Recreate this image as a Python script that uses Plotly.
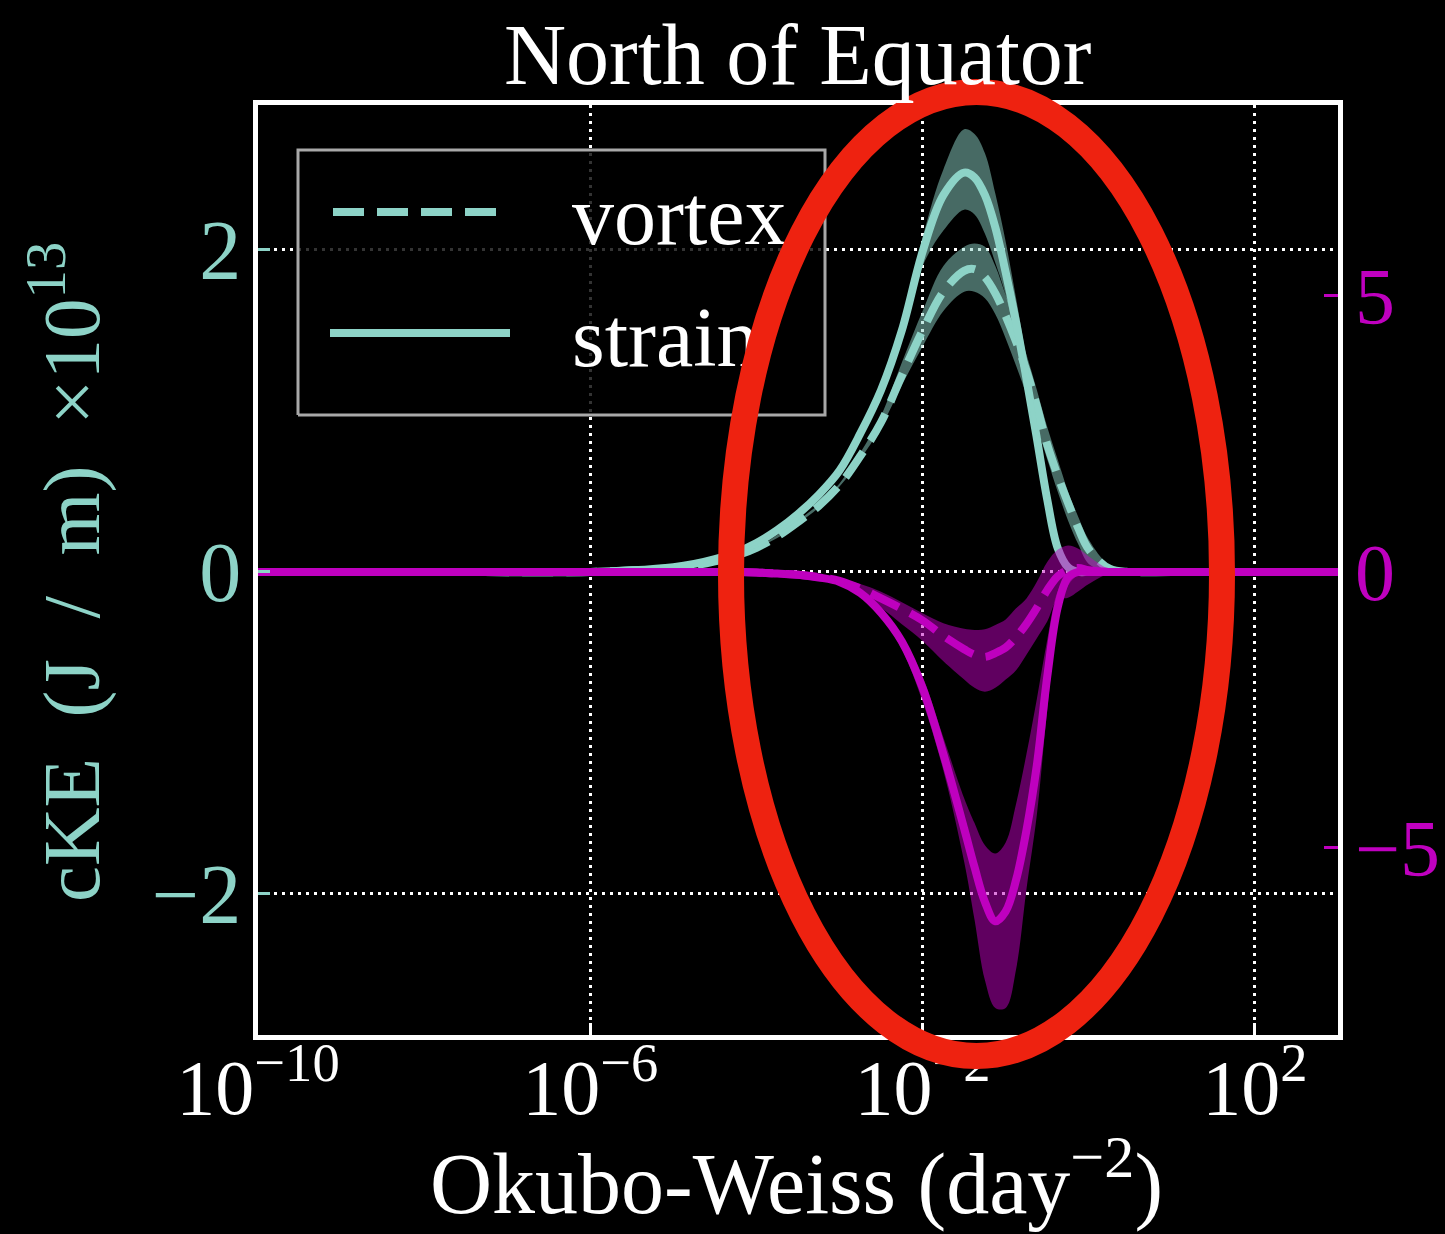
import numpy as np
import plotly.graph_objects as go

# ---------------- data ----------------
# Okubo-Weiss bin positions, as log10 exponents (day^-2)
ow_exp = [-10, -8, -6, -5.5, -5, -4.75, -4.5, -4.25, -4, -3.75, -3.5, -3.25, -3,
          -2.75, -2.5, -2.25, -2, -1.75, -1.5, -1.375, -1.25, -1.125, -1, -0.875,
          -0.75, -0.625, -0.5, -0.375, -0.25, -0.125, 0, 0.25, 0.5, 1, 2, 3]

# left axis (cKE x 1e13), teal
strain_mean = [0, 0, 0, 0.01, 0.03, 0.05, 0.08, 0.12, 0.18, 0.26, 0.36, 0.48, 0.63,
               0.86, 1.13, 1.50, 1.99, 2.34, 2.48, 2.45, 2.34, 2.14, 1.86, 1.55,
               1.20, 0.83, 0.45, 0.15, 0.03, 0.0, 0, 0, 0, 0, 0, 0]
strain_lo = [0, 0, 0, 0.01, 0.03, 0.05, 0.08, 0.12, 0.17, 0.25, 0.35, 0.47, 0.62,
             0.84, 1.11, 1.47, 1.90, 2.12, 2.25, 2.22, 2.10, 1.92, 1.72, 1.43,
             1.12, 0.76, 0.40, 0.12, 0.02, 0.0, 0, 0, 0, 0, 0, 0]
strain_hi = [0, 0, 0, 0.01, 0.03, 0.05, 0.08, 0.12, 0.19, 0.27, 0.37, 0.49, 0.64,
             0.88, 1.15, 1.55, 2.08, 2.50, 2.75, 2.72, 2.60, 2.35, 2.05, 1.70,
             1.32, 0.92, 0.52, 0.20, 0.05, 0.01, 0, 0, 0, 0, 0, 0]

vortex_mean = [0, 0, 0, 0.01, 0.025, 0.04, 0.065, 0.10, 0.15, 0.22, 0.31, 0.41, 0.54,
               0.72, 0.93, 1.22, 1.50, 1.74, 1.87, 1.88, 1.83, 1.73, 1.59, 1.43,
               1.25, 1.03, 0.79, 0.60, 0.43, 0.27, 0.14, 0.02, 0, 0, 0, 0]
vortex_lo = [0, 0, 0, 0.01, 0.025, 0.04, 0.065, 0.10, 0.15, 0.21, 0.30, 0.40, 0.53,
             0.70, 0.90, 1.16, 1.40, 1.62, 1.74, 1.74, 1.70, 1.60, 1.45, 1.28,
             1.10, 0.90, 0.70, 0.50, 0.32, 0.17, 0.05, 0.0, 0, 0, 0, 0]
vortex_hi = [0, 0, 0, 0.01, 0.025, 0.04, 0.065, 0.10, 0.15, 0.23, 0.32, 0.42, 0.55,
             0.74, 0.97, 1.30, 1.62, 1.90, 2.02, 2.04, 2.02, 1.90, 1.72, 1.55,
             1.35, 1.13, 0.90, 0.70, 0.50, 0.34, 0.20, 0.04, 0, 0, 0, 0]

# right axis, magenta
m_strain_mean = [0, 0, 0, 0, 0, 0, 0, 0, -0.01, -0.03, -0.05, -0.10, -0.18,
                 -0.38, -0.74, -1.26, -2.10, -3.30, -4.65, -5.35, -5.98, -6.33, -6.15, -5.58,
                 -4.68, -3.50, -1.90, -0.65, -0.10, 0.0, 0, 0, 0, 0, 0, 0]
m_strain_hi = [0, 0, 0, 0, 0, 0, 0, 0, -0.01, -0.03, -0.04, -0.08, -0.16,
               -0.34, -0.68, -1.15, -1.90, -3.00, -4.10, -4.55, -4.95, -5.10, -4.90, -4.20,
               -3.30, -2.30, -1.23, -0.35, -0.05, 0.02, 0, 0, 0, 0, 0, 0]
m_strain_lo = [0, 0, 0, 0, 0, 0, 0, 0, -0.01, -0.03, -0.06, -0.12, -0.20,
               -0.42, -0.82, -1.40, -2.35, -3.60, -5.25, -6.30, -7.40, -7.90, -7.90, -7.20,
               -5.75, -4.40, -2.50, -0.95, -0.25, -0.05, 0, 0, 0, 0, 0, 0]

m_vortex_mean = [0, 0, 0, 0, 0, 0, 0, 0, -0.01, -0.03, -0.05, -0.09, -0.16,
                 -0.30, -0.48, -0.67, -0.88, -1.16, -1.40, -1.50, -1.54, -1.47, -1.37, -1.18,
                 -0.94, -0.65, -0.33, -0.08, 0.04, 0.07, 0.03, 0.0, 0, 0, 0, 0]
m_vortex_hi = [0, 0, 0, 0, 0, 0, 0, 0, -0.01, -0.02, -0.04, -0.08, -0.12,
               -0.22, -0.36, -0.55, -0.75, -0.93, -1.03, -1.05, -1.04, -0.96, -0.86, -0.66,
               -0.48, -0.18, 0.18, 0.40, 0.48, 0.42, 0.28, 0.05, 0, 0, 0, 0]
m_vortex_lo = [0, 0, 0, 0, 0, 0, 0, 0, -0.01, -0.04, -0.06, -0.11, -0.22,
               -0.42, -0.65, -0.95, -1.25, -1.62, -1.95, -2.10, -2.17, -2.10, -1.95, -1.78,
               -1.50, -1.20, -0.90, -0.50, -0.47, -0.35, -0.22, -0.03, 0, 0, 0, 0]

x_tick_exp = [-10, -6, -2, 2]
x_tick_text = ["10<sup>\u221210</sup>", "10<sup>\u22126</sup>", "10<sup>\u22122</sup>", "10<sup>2</sup>"]
y1_ticks = [-2, 0, 2]
y1_text = ["\u22122", "0", "2"]
y2_ticks = [-5, 0, 5]
y2_text = ["\u22125", "0", "5"]

legend_labels = ["vortex", "strain"]

# ---------------- styling ----------------
TEAL = "#8dd3c7"
TEAL_FILL = "rgba(141,211,199,0.5)"
MAG = "#bf00bf"
MAG_FILL = "rgba(191,0,191,0.5)"
FONT = "Liberation Serif"
DASH = "31px,13px"
LW = 8

x = [10.0 ** e for e in ow_exp]

fig = go.Figure()


def band(lo, hi, color, yaxis):
    fig.add_trace(go.Scatter(x=x, y=lo, mode="lines", line=dict(width=0, shape="spline"),
                             yaxis=yaxis, showlegend=False, hoverinfo="skip"))
    fig.add_trace(go.Scatter(x=x, y=hi, mode="lines", line=dict(width=0, shape="spline"),
                             fill="tonexty", fillcolor=color, yaxis=yaxis,
                             showlegend=False, hoverinfo="skip"))


def curve(y, color, dash, yaxis):
    fig.add_trace(go.Scatter(x=x, y=y, mode="lines",
                             line=dict(color=color, width=LW, dash=dash, shape="spline"),
                             yaxis=yaxis, showlegend=False))


# teal (left axis)
curve(vortex_mean, TEAL, DASH, "y")
curve(strain_mean, TEAL, "solid", "y")
band(vortex_lo, vortex_hi, TEAL_FILL, "y")
band(strain_lo, strain_hi, TEAL_FILL, "y")

# magenta (right axis)
curve(m_vortex_mean, MAG, DASH, "y2")
curve(m_strain_mean, MAG, "solid", "y2")
band(m_vortex_lo, m_vortex_hi, MAG_FILL, "y2")
band(m_strain_lo, m_strain_hi, MAG_FILL, "y2")

# ---------------- legend drawn in an overlay [0,1] frame ----------------
PL, PR, PT, PB = 258, 1338, 105, 1035


def px_x(p):
    return (p - PL) / (PR - PL)


def px_y(p):
    return (PB - p) / (PB - PT)


bx0, bx1, by0, by1 = px_x(298), px_x(825), px_y(415), px_y(150)
fig.add_trace(go.Scatter(x=[bx0, bx1, bx1, bx0, bx0], y=[by0, by0, by1, by1, by0],
                         mode="lines", fill="toself", fillcolor="rgba(0,0,0,0.8)",
                         line=dict(color="#a8a8a8", width=3), xaxis="x2", yaxis="y3",
                         showlegend=False, hoverinfo="skip"))
fig.add_trace(go.Scatter(x=[px_x(333), px_x(503)], y=[px_y(212)] * 2, mode="lines",
                         line=dict(color=TEAL, width=LW, dash=DASH), xaxis="x2", yaxis="y3",
                         showlegend=False, hoverinfo="skip"))
fig.add_trace(go.Scatter(x=[px_x(330), px_x(510)], y=[px_y(333)] * 2, mode="lines",
                         line=dict(color=TEAL, width=LW), xaxis="x2", yaxis="y3",
                         showlegend=False, hoverinfo="skip"))
fig.add_trace(go.Scatter(x=[px_x(572)] * 2, y=[px_y(223), px_y(345)], mode="text",
                         text=legend_labels, textposition="middle right",
                         textfont=dict(family=FONT, size=84, color="white"),
                         xaxis="x2", yaxis="y3", showlegend=False, hoverinfo="skip"))

grid_dash = "3px,5px"
fig.update_layout(
    width=1445, height=1234, autosize=False,
    margin=dict(l=PL, r=1445 - PR, t=PT, b=1234 - PB, pad=0, autoexpand=False),
    paper_bgcolor="black", plot_bgcolor="black",
    showlegend=False,
    font=dict(family=FONT, color="white"),
    xaxis=dict(type="log", range=[-10.0001, 3.0], tickvals=[10.0 ** e for e in x_tick_exp],
               ticktext=x_tick_text, tickfont=dict(size=78, color="white", family=FONT),
               showline=True, mirror=True, linecolor="white", linewidth=5,
               ticks="inside", ticklen=12, tickwidth=3, tickcolor="white",
               showgrid=True, gridcolor="white", gridwidth=3, griddash=grid_dash,
               zeroline=False, ticklabelstandoff=-20, automargin=False),
    yaxis=dict(range=[-2.876, 2.90], tickvals=y1_ticks, ticktext=y1_text,
               tickfont=dict(size=84, color=TEAL, family=FONT),
               showline=True, mirror=True, linecolor="white", linewidth=5,
               ticks="inside", ticklen=12, tickwidth=3, tickcolor=TEAL,
               showgrid=True, gridcolor="white", gridwidth=3, griddash=grid_dash,
               zeroline=False, ticklabelstandoff=-5, automargin=False),
    yaxis2=dict(range=[-8.39, 8.46], overlaying="y", side="right", anchor="x",
                tickvals=y2_ticks, ticktext=y2_text,
                tickfont=dict(size=80, color=MAG, family=FONT),
                showline=False, ticks="inside", ticklen=14, tickwidth=3, tickcolor=MAG,
                showgrid=False, zeroline=False, ticklabelstandoff=16, automargin=False),
    xaxis2=dict(overlaying="x", range=[0, 1], visible=False, anchor="y", automargin=False),
    yaxis3=dict(overlaying="y", range=[0, 1], visible=False, anchor="x", automargin=False),
)

fig.add_annotation(text="North of Equator", xref="paper", yref="paper",
                   x=0.5, y=px_y(55), xanchor="center", yanchor="middle", showarrow=False,
                   font=dict(family=FONT, size=86, color="white"))
fig.add_annotation(text="Okubo-Weiss (day<sup>\u22122</sup>)", xref="paper", yref="paper",
                   x=px_x(796), y=px_y(1234), xanchor="center", yanchor="bottom", showarrow=False,
                   font=dict(family=FONT, size=86, color="white"))
fig.add_annotation(text="cKE\u2002(J\u2002/\u2002m)\u2002\u00d710<sup>13</sup>", xref="paper", yref="paper",
                   x=px_x(65), y=px_y(572), xanchor="center", yanchor="middle", showarrow=False,
                   textangle=-90, font=dict(family=FONT, size=81, color=TEAL))

# red highlight ellipse
fig.add_shape(type="circle", xref="paper", yref="paper",
              x0=px_x(731), x1=px_x(1222), y0=px_y(1056), y1=px_y(92),
              line=dict(color="#ee2210", width=26), layer="above")

fig.write_html("out.html")
